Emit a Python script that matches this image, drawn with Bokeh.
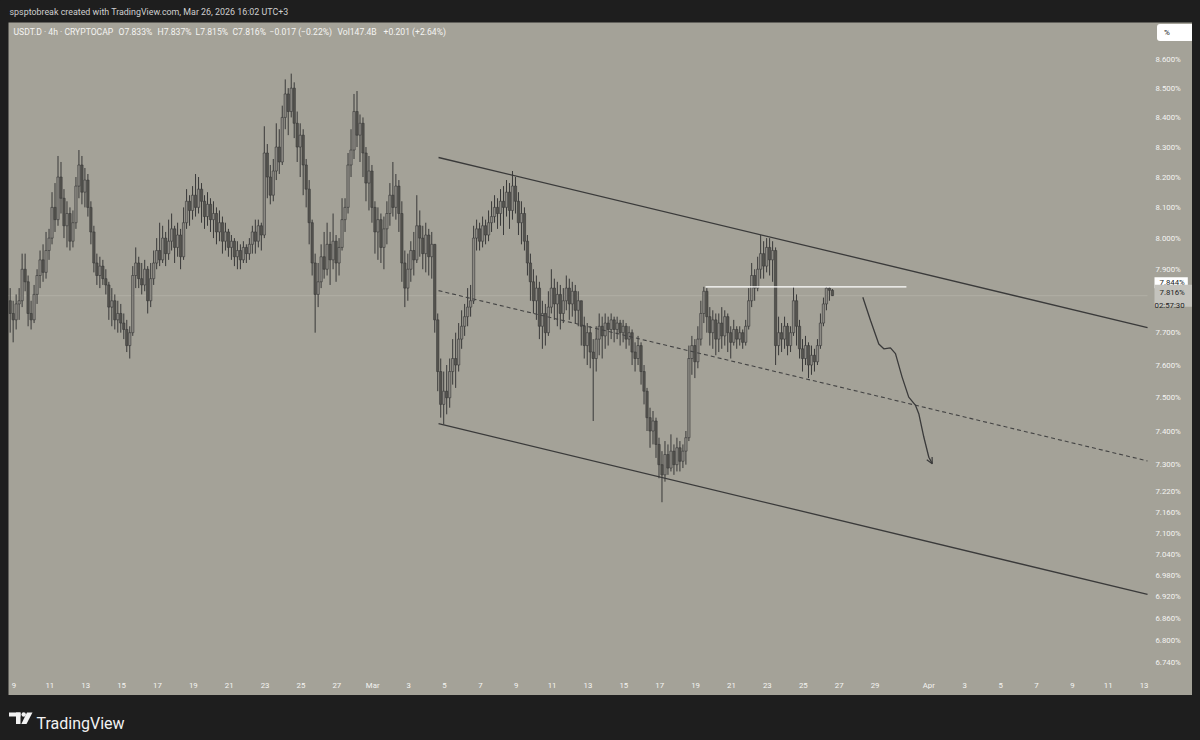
from bokeh.plotting import figure
from bokeh.layouts import column, row
from bokeh.models import (Range1d, FixedTicker, PrintfTickFormatter, Label,
                          ColumnDataSource, Arrow, OpenHead, Spacer)
from bokeh.embed import file_html
from bokeh.resources import INLINE

# ---------------- data ----------------
credit_text = "spsptobreak created with TradingView.com, Mar 26, 2026 16:02 UTC+3"
symbol_text = "USDT.D · 4h · CRYPTOCAP"
change_text = "−0.017 (−0.22%)"
volume_text = "Vol147.4B"
volume_change_text = "+0.201 (+2.64%)"
countdown_text = "02:57:30"

# time axis: days counted from Feb 9 00:00 (UTC+3)
first_candle_day = -5 / 24      # Feb 8, 19:00
candle_days = 1 / 6             # 4h candles
first_open = 7.80

closes = [
    7.76, 7.74, 7.79, 7.80, 7.90, 7.86, 7.76, 7.74, 7.82,
    7.88, 7.93, 7.89, 7.96, 8.00,
    8.10, 8.06, 8.20, 8.13,
    8.04, 8.08, 7.99, 8.05,
    8.17, 8.24, 8.15, 8.19,
    8.10, 8.02, 7.92,
    7.88, 7.91, 7.87, 7.85,
    7.78, 7.80, 7.74, 7.76, 7.73, 7.71,
    7.66, 7.70,
    7.88, 7.92, 7.87,
    7.85, 7.90, 7.80, 7.87, 7.92,
    7.96, 7.93, 8.00, 7.95, 7.99, 8.03, 7.97, 8.01,
    7.94, 8.05, 8.12, 8.09,
    8.14, 8.10, 8.16, 8.12, 8.07, 8.11,
    8.06, 8.08, 8.02, 8.05, 7.99, 8.02,
    7.97, 7.99, 7.94, 7.96, 7.93, 7.97, 7.95, 7.98,
    8.02, 7.99, 8.04, 8.01,
    8.28, 8.20, 8.14,
    8.22, 8.30, 8.25,
    8.40, 8.48, 8.42, 8.50,
    8.38, 8.30, 8.34, 8.24,
    8.16, 8.05,
    7.92, 7.82, 7.86,
    7.94, 7.90, 7.98, 7.93, 7.99, 7.92,
    7.97, 8.06, 8.10,
    8.24, 8.29, 8.42, 8.34,
    8.38, 8.28, 8.18, 8.22,
    8.10, 8.02, 8.06, 7.97, 8.03, 8.08,
    8.14, 8.10, 8.17, 8.08,
    7.92, 7.84,
    7.90, 7.96, 7.93, 8.04, 8.00, 7.95, 8.01, 7.94, 7.98,
    7.74, 7.58, 7.48,
    7.52, 7.50,
    7.58, 7.62, 7.60, 7.68, 7.72, 7.75, 7.78, 7.80,
    8.00, 8.03,
    7.99, 8.04, 8.01, 8.05, 8.07, 8.10, 8.08,
    8.12, 8.10, 8.15, 8.09, 8.17, 8.12,
    8.05, 8.08, 7.99,
    7.92, 7.86, 7.80, 7.84, 7.72, 7.76, 7.70,
    7.78, 7.84, 7.79, 7.82, 7.76, 7.80,
    7.84, 7.79, 7.83, 7.77, 7.80,
    7.72, 7.66, 7.70, 7.64,
    7.62, 7.68,
    7.72, 7.69, 7.73, 7.71,
    7.74, 7.71, 7.73, 7.70, 7.72, 7.68, 7.70,
    7.64, 7.62, 7.66, 7.58, 7.52,
    7.44, 7.40, 7.43, 7.36,
    7.30, 7.27, 7.33,
    7.29, 7.34, 7.30, 7.35, 7.31, 7.34, 7.38,
    7.62, 7.66, 7.61, 7.68, 7.76, 7.83, 7.75,
    7.70, 7.74, 7.68, 7.73, 7.69, 7.75, 7.70, 7.67, 7.71, 7.68, 7.70, 7.67, 7.72,
    7.80, 7.88, 7.84,
    7.90, 7.95, 7.91, 7.97, 7.93, 7.96,
    7.66, 7.70, 7.68, 7.72, 7.66, 7.70,
    7.80, 7.72,
    7.65, 7.62, 7.66, 7.60, 7.63, 7.61, 7.66,
    7.73, 7.79, 7.84, 7.833, 7.816,
]

highs = [
    7.84, 7.80, 7.82, 7.84, 7.95, 7.95, 7.88, 7.80, 7.85,
    7.90, 7.96, 7.98, 8.02, 8.03,
    8.15, 8.18, 8.27, 8.25,
    8.16, 8.12, 8.10, 8.09,
    8.20, 8.29, 8.27, 8.23,
    8.21, 8.12, 8.04,
    7.95, 7.94, 7.93, 7.90,
    7.86, 7.84, 7.82, 7.80, 7.79, 7.76,
    7.74, 7.72,
    7.91, 7.97, 7.94,
    7.92, 7.93, 7.91, 7.92, 7.96,
    8.00, 8.05, 8.04, 8.02, 8.06, 8.08, 8.04, 8.05,
    8.03, 8.10, 8.16, 8.14,
    8.17, 8.21, 8.20, 8.18, 8.14, 8.15,
    8.13, 8.12, 8.10, 8.09, 8.07, 8.05,
    8.03, 8.01, 8.00, 7.99, 7.98, 7.99, 7.98, 8.00,
    8.04, 8.06, 8.06, 8.05,
    8.37, 8.31, 8.24,
    8.26, 8.38, 8.36,
    8.44, 8.53, 8.50, 8.55,
    8.52, 8.42, 8.38, 8.36,
    8.26, 8.19,
    8.06, 7.95, 7.92,
    7.98, 8.02, 8.05, 8.02, 8.08, 8.01,
    8.00, 8.13, 8.13,
    8.28, 8.36, 8.48, 8.49,
    8.41, 8.40, 8.30, 8.27,
    8.24, 8.12, 8.10, 8.08, 8.07, 8.12,
    8.18, 8.25, 8.21, 8.19,
    8.12, 7.96,
    7.95, 7.99, 8.02, 8.14, 8.09, 8.04, 8.05, 8.03, 8.02,
    7.98, 7.76, 7.62,
    7.58, 7.60,
    7.62, 7.68, 7.70, 7.73, 7.77, 7.79, 7.84, 7.85,
    8.04, 8.06,
    8.05, 8.07, 8.06, 8.09, 8.12, 8.14, 8.13,
    8.16, 8.17, 8.19, 8.18, 8.22, 8.20,
    8.15, 8.12, 8.10,
    8.01, 7.95, 7.90, 7.88, 7.86, 7.80, 7.79,
    7.83, 7.90, 7.87, 7.86, 7.85, 7.84,
    7.88, 7.87, 7.86, 7.85, 7.83,
    7.80, 7.75, 7.73, 7.72,
    7.68, 7.72,
    7.76, 7.75, 7.76, 7.75,
    7.76, 7.75, 7.75, 7.74, 7.74, 7.73, 7.72,
    7.71, 7.67, 7.69, 7.67, 7.60,
    7.53, 7.47, 7.46, 7.44,
    7.38, 7.34, 7.37,
    7.36, 7.39, 7.36, 7.38, 7.37, 7.36, 7.40,
    7.66, 7.69, 7.68, 7.72, 7.80, 7.844, 7.84,
    7.78, 7.77, 7.76, 7.76, 7.78, 7.77, 7.76, 7.72, 7.74, 7.72, 7.72, 7.71, 7.74,
    7.84, 7.92, 7.90,
    7.94, 8.01, 7.99, 8.00, 8.00, 7.99,
    7.97, 7.75, 7.73, 7.75, 7.73, 7.72,
    7.844, 7.82,
    7.74, 7.68, 7.69, 7.67, 7.66, 7.65, 7.68,
    7.76, 7.81, 7.844, 7.844, 7.837,
]

lows = [
    7.70, 7.67, 7.71, 7.74, 7.78, 7.83, 7.72, 7.71, 7.73,
    7.79, 7.84, 7.86, 7.87, 7.93,
    7.98, 8.02, 8.04, 8.08,
    8.00, 7.97, 7.96, 7.97,
    8.03, 8.13, 8.11, 8.10,
    8.07, 7.98, 7.89,
    7.85, 7.84, 7.85, 7.82,
    7.74, 7.72, 7.71, 7.70, 7.70, 7.68,
    7.64, 7.62,
    7.69, 7.84, 7.84,
    7.82, 7.83, 7.76, 7.78, 7.85,
    7.90, 7.91, 7.92, 7.91, 7.93, 7.96, 7.92, 7.94,
    7.90, 7.93, 8.03, 8.04,
    8.06, 8.07, 8.08, 8.05, 8.03, 8.04,
    8.02, 8.00, 7.98, 7.99, 7.95, 7.96,
    7.94, 7.93, 7.91, 7.90, 7.90, 7.92, 7.92, 7.93,
    7.95, 7.95, 7.97, 7.96,
    8.00, 8.13, 8.11,
    8.12, 8.19, 8.21,
    8.24, 8.36, 8.34, 8.40,
    8.33, 8.25, 8.20, 8.14,
    8.10, 7.98,
    7.88, 7.70, 7.78,
    7.84, 7.87, 7.88, 7.85, 7.90, 7.86,
    7.88, 7.96, 8.02,
    8.08, 8.20, 8.26, 8.30,
    8.25, 8.20, 8.12, 8.09,
    8.05, 7.95, 7.93, 7.92, 7.90, 7.98,
    8.04, 8.07, 8.06, 8.02,
    7.86, 7.78,
    7.80, 7.86, 7.88, 7.92, 7.94, 7.90, 7.89, 7.88, 7.87,
    7.70, 7.52, 7.44,
    7.42, 7.45,
    7.47, 7.54, 7.53, 7.58, 7.65, 7.69, 7.72, 7.75,
    7.79, 7.96,
    7.96, 7.97, 7.98, 7.99, 8.02, 8.05, 8.03,
    8.04, 8.01, 8.07, 8.03, 8.06, 8.08,
    8.01, 7.98, 7.96,
    7.88, 7.80, 7.76, 7.74, 7.68, 7.65, 7.66,
    7.69, 7.76, 7.74, 7.72, 7.71, 7.73,
    7.77, 7.74, 7.75, 7.73, 7.72,
    7.66, 7.62, 7.60, 7.59,
    7.43, 7.58,
    7.63, 7.62, 7.65, 7.66,
    7.68, 7.67, 7.68, 7.66, 7.67, 7.65, 7.66,
    7.60, 7.58, 7.60, 7.54, 7.48,
    7.40, 7.35, 7.36, 7.32,
    7.26, 7.19, 7.25,
    7.27, 7.28, 7.27, 7.28, 7.28, 7.29, 7.30,
    7.37, 7.57, 7.56, 7.59, 7.66, 7.73, 7.70,
    7.66, 7.65, 7.63, 7.64, 7.65, 7.66, 7.64, 7.62, 7.66, 7.65, 7.66, 7.65, 7.66,
    7.71, 7.78, 7.80,
    7.83, 7.87, 7.87, 7.89, 7.88, 7.86,
    7.60, 7.63, 7.64, 7.65, 7.63, 7.64,
    7.69, 7.66,
    7.62, 7.58, 7.60, 7.56, 7.57, 7.58, 7.60,
    7.65, 7.72, 7.77, 7.80, 7.815,
]

# drawings (day, price)
channel_days = [23.67, 63.19]
channel_upper = [8.265, 7.716]
channel_mid = [7.832, 7.311]
channel_lower = [7.422, 6.927]
level_days = [38.55, 49.75]
level_price = 7.844
path_days = [47.32, 47.75, 48.21, 48.49, 48.86, 49.14, 49.51, 49.88, 50.26,
             50.44, 50.72, 51.00, 51.19]
path_prices = [7.811, 7.738, 7.665, 7.650, 7.653, 7.635, 7.563, 7.502, 7.477,
               7.452, 7.382, 7.322, 7.303]

# axes
price_ticks = [8.6, 8.5, 8.4, 8.3, 8.2, 8.1, 8.0, 7.9, 7.7, 7.6, 7.5, 7.4, 7.3,
               7.22, 7.16, 7.1, 7.04, 6.98, 6.92, 6.86, 6.8, 6.74]
time_tick_days = [0, 2, 4, 6, 8, 10, 12, 14, 16, 18, 20, 22, 24, 26, 28, 30, 32,
                  34, 36, 38, 40, 42, 44, 46, 48, 51, 53, 55, 57, 59, 61, 63]
time_tick_labels = ["9", "11", "13", "15", "17", "19", "21", "23", "25", "27",
                    "Mar", "3", "5", "7", "9", "11", "13", "15", "17", "19", "21",
                    "23", "25", "27", "29", "Apr", "3", "5", "7", "9", "11", "13"]
x_view = (-0.301, 65.697)       # whole panel width (incl. price scale)
y_view = (6.6497, 8.7285)       # whole panel height (incl. time scale)
pane_right_day = 63.187         # where the price scale starts
pane_bottom_price = 6.7118      # where the time scale starts

assert len(closes) == len(highs) == len(lows)

# ---------------- style ----------------
DARK = "#1e1e1e"
PANEL = "#a4a298"
WICK = "#393939"
UP_BODY = "#8c8a84"
DOWN_BODY = "#55544f"
LINE = "#3a3a3a"
TXT = "#f4f4f2"
FONT = "Roboto"

W = 1184
H = 673

opens = [first_open] + closes[:-1]
days = [first_candle_day + i * candle_days for i in range(len(closes))]
src = ColumnDataSource(dict(
    day=days, high=highs, low=lows,
    top=[max(o, c) for o, c in zip(opens, closes)],
    bottom=[min(o, c) for o, c in zip(opens, closes)],
    fill=[UP_BODY if c >= o else DOWN_BODY for o, c in zip(opens, closes)],
))

# ---------------- header strip ----------------
top = figure(width=1200, height=22, x_range=Range1d(0, 1), y_range=Range1d(0, 1),
             toolbar_location=None, output_backend="svg", min_border=0,
             x_axis_location=None, y_axis_location=None,
             background_fill_color=DARK, border_fill_color=DARK, outline_line_color=None)
top.grid.visible = False
top.add_layout(Label(x=9, y=11, x_units="screen", y_units="screen", text=credit_text,
                     text_font=FONT, text_font_size="8.9px", text_color="#cfcfcf",
                     text_baseline="middle"))

# ---------------- main chart ----------------
p = figure(width=W, height=H, x_range=Range1d(*x_view), y_range=Range1d(*y_view),
           y_axis_type="log", y_axis_location="right",
           toolbar_location=None, output_backend="svg", min_border=0,
           background_fill_color=PANEL, border_fill_color=PANEL, outline_line_color=None)
p.xgrid.visible = False
p.ygrid.visible = False

ya = p.yaxis[0]
ya.ticker = FixedTicker(ticks=price_ticks)
ya.formatter = PrintfTickFormatter(format="%.3f%%")
ya.fixed_location = pane_right_day
xa = p.xaxis[0]
xa.ticker = FixedTicker(ticks=time_tick_days)
xa.major_label_overrides = {d: s for d, s in zip(time_tick_days, time_tick_labels)}
xa.fixed_location = pane_bottom_price
for ax in (xa, ya):
    ax.axis_line_color = None
    ax.major_tick_line_color = None
    ax.minor_tick_line_color = None
    ax.major_tick_out = 0
    ax.major_tick_in = 0
    ax.major_label_text_color = TXT
    ax.major_label_text_font = FONT
    ax.major_label_text_font_size = "7.8px"
ya.major_label_standoff = 8
xa.major_label_standoff = 8

o_, h_, l_, c_ = opens[-1], highs[-1], lows[-1], closes[-1]

# faint last-price line
p.line([x_view[0], pane_right_day], [c_, c_], line_color="#bbb9af", line_width=1, line_alpha=0.55)

# candles
p.segment(x0="day", y0="low", x1="day", y1="high", source=src, line_color=WICK, line_width=1)
p.vbar(x="day", width=0.13, top="top", bottom="bottom", source=src,
       fill_color="fill", line_color=WICK, line_width=0.6)

# channel
p.line(channel_days, channel_upper, line_color=LINE, line_width=1.3)
p.line(channel_days, channel_lower, line_color=LINE, line_width=1.3)
p.line(channel_days, channel_mid, line_color="#444444", line_width=1.1, line_dash="4 3")
# horizontal level
p.line(level_days, [level_price, level_price], line_color="#ffffff", line_width=1.3)
# projected path
p.line(path_days, path_prices, line_color=LINE, line_width=1.3)
p.add_layout(Arrow(end=OpenHead(size=6, line_color=LINE, line_width=1.2),
                   x_start=path_days[-2], y_start=path_prices[-2],
                   x_end=path_days[-1], y_end=path_prices[-1],
                   line_color=LINE, line_width=0))

# legend row
legend_items = [
    (5, symbol_text), (110, f"O{o_:.3f}%"), (149, f"H{h_:.3f}%"), (187, f"L{l_:.3f}%"),
    (224, f"C{c_:.3f}%"), (261, change_text), (329, volume_text), (375, volume_change_text),
]
for lx, lt in legend_items:
    p.add_layout(Label(x=lx, y=H - 9, x_units="screen", y_units="screen", text=lt,
                       text_font=FONT, text_font_size="8.6px", text_color=TXT,
                       text_baseline="middle"))

# "%" button
p.add_layout(Label(x=1148.5, y=H - 10, x_units="screen", y_units="screen", text="%",
                   text_font=FONT, text_font_size="8px", text_color="#131722",
                   text_baseline="middle", background_fill_color="#ffffff",
                   padding=dict(left=7, right=27, top=4, bottom=4), border_radius=3))

# price scale labels
p.add_layout(Label(x=1146, y=level_price, x_units="screen", y_units="data",
                   text=f"{level_price:.3f}%", y_offset=4,
                   text_font=FONT, text_font_size="7.8px", text_color="#131722",
                   text_baseline="middle", background_fill_color="#ffffff",
                   padding=dict(left=5, right=3, top=1, bottom=1)))
p.add_layout(Label(x=1146, y=c_, x_units="screen", y_units="data",
                   text=f"{c_:.3f}%",
                   text_font=FONT, text_font_size="7.8px", text_color="#1e1e1e",
                   text_baseline="middle", background_fill_color="#c4c3bd",
                   padding=dict(left=5, right=11, top=3, bottom=10)))
p.add_layout(Label(x=1146, y=c_, x_units="screen", y_units="data",
                   text=countdown_text, y_offset=-10,
                   text_font=FONT, text_font_size="7.8px", text_color="#1e1e1e",
                   text_baseline="middle"))

# ---------------- footer ----------------
bot = figure(width=1200, height=45, x_range=Range1d(0, 1200), y_range=Range1d(45, 0),
             toolbar_location=None, output_backend="svg", min_border=0,
             x_axis_location=None, y_axis_location=None,
             background_fill_color=DARK, border_fill_color=DARK, outline_line_color=None)
bot.grid.visible = False
bot.quad(left=[8.5, 15.5], right=[20, 20], top=[17, 17], bottom=[21, 28.5],
         fill_color="#f2f2f2", line_color=None)
bot.scatter([23.2], [19], size=4.4, fill_color="#f2f2f2", line_color=None)
bot.patch([26.5, 32, 26, 20.8], [17, 17, 28.5, 28.5], fill_color="#f2f2f2", line_color=None)
bot.add_layout(Label(x=36, y=16.7, x_units="screen", y_units="screen", text="TradingView",
                     text_font=FONT, text_font_size="16px", text_color="#f2f2f2",
                     text_baseline="alphabetic"))

layout = column(top,
                row(Spacer(width=8, height=H), p, Spacer(width=8, height=H), spacing=0),
                bot, spacing=0)
html = file_html(layout, INLINE)
html = html.replace("</head>", "<style>html,body{background:#1e1e1e;}</style></head>", 1)
open("out.html", "w").write(html)
